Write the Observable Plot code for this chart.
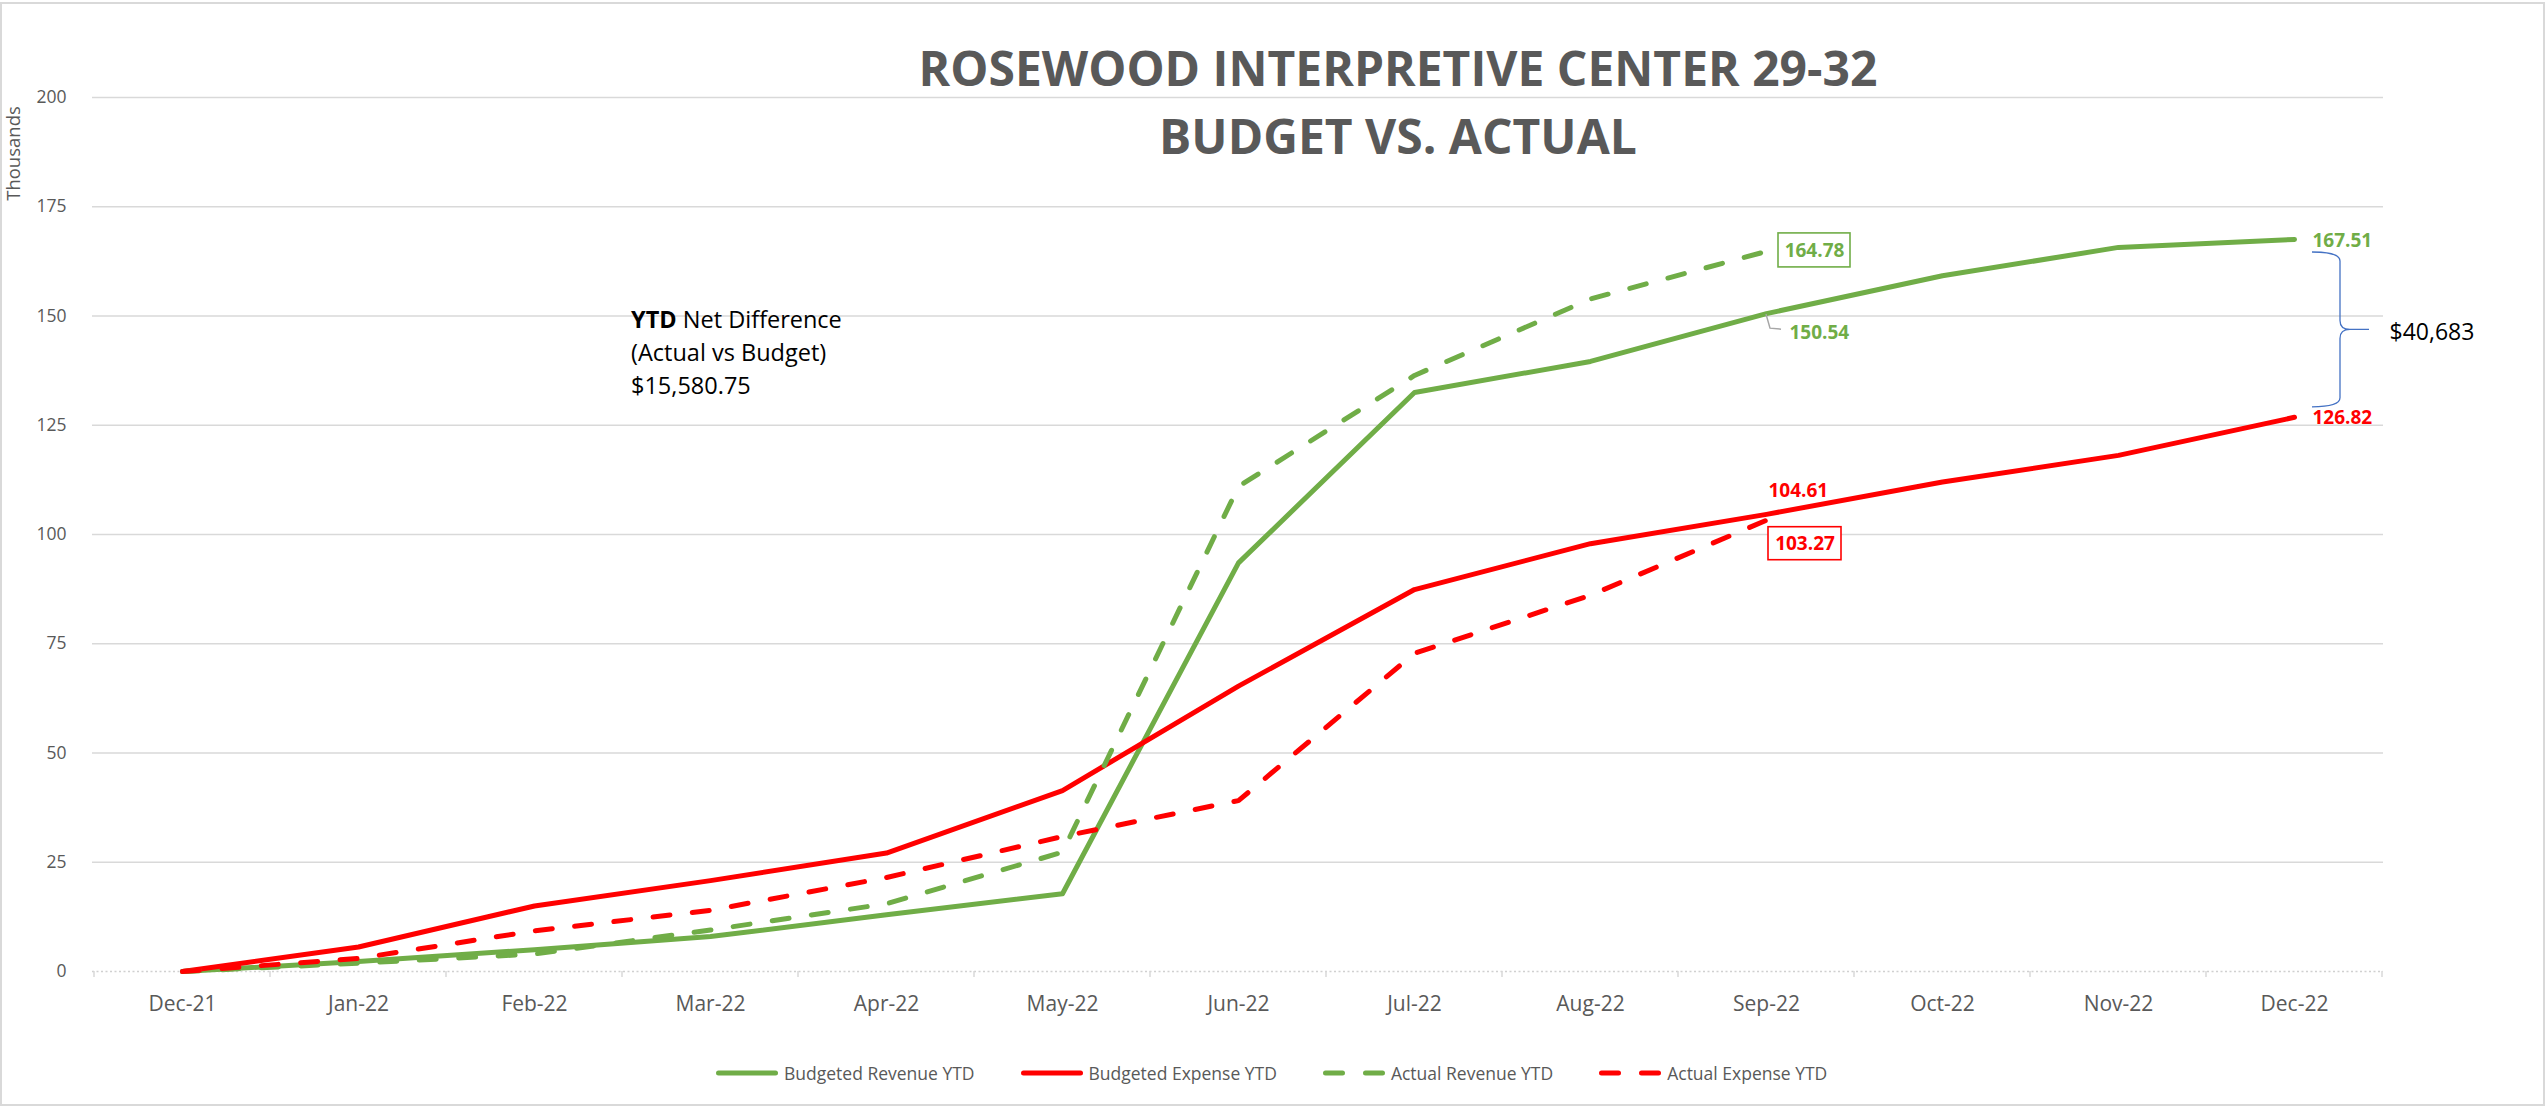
<!DOCTYPE html>
<html>
<head>
<meta charset="utf-8">
<script src="https://cdn.jsdelivr.net/npm/d3@7"></script>
<script src="https://cdn.jsdelivr.net/npm/@observablehq/plot@0.6"></script>
<style>
html,body{margin:0;padding:0;background:#fff;}
body{width:2547px;height:1109px;overflow:hidden;font-family:"Open Sans",sans-serif;}
#wrap{position:relative;width:2547px;height:1109px;background:#fff;}
#border{position:absolute;left:0;top:2px;width:2545px;height:1104px;box-sizing:border-box;border:2px solid #d9d9d9;pointer-events:none;}
#chart{position:absolute;left:0;top:0;}
#title{position:absolute;left:1398px;top:34px;transform:translateX(-50%);text-align:center;white-space:nowrap;font-weight:700;font-size:48px;line-height:68px;color:#595959;}
#note{position:absolute;left:631px;top:303px;font-size:23.5px;line-height:33px;color:#000;white-space:nowrap;}
#legend{position:absolute;left:716px;top:1060px;height:26px;display:flex;align-items:center;font-size:17.5px;color:#595959;white-space:nowrap;}
.item{display:flex;align-items:center;margin-right:46px;}
.item svg{margin-right:6px;display:block;}
</style>
</head>
<body>
<div id="wrap">
  <div id="chart"></div>
  <div id="title"></div>
  <div id="note"></div>
  <div id="legend"></div>
  <div id="border"></div>
</div>
<script>
// ---------- data ----------
const months = ["Dec-21","Jan-22","Feb-22","Mar-22","Apr-22","May-22","Jun-22","Jul-22","Aug-22","Sep-22","Oct-22","Nov-22","Dec-22"];
const budgetedRevenue = [0, 2.3, 5.0, 8.0, 13.0, 17.8, 93.5, 132.5, 139.6, 150.54, 159.2, 165.7, 167.51];
const budgetedExpense = [0, 5.6, 15.0, 20.8, 27.1, 41.4, 65.3, 87.4, 97.9, 104.61, 112.0, 118.1, 126.82];
const actualRevenue   = [0, 1.9, 4.0, 9.5, 15.5, 27.3, 111.0, 136.4, 153.9, 164.78];
const actualExpense   = [0, 3.0, 9.3, 14.0, 21.5, 30.9, 39.1, 72.8, 86.1, 103.27];
const yTicks = [0, 25, 50, 75, 100, 125, 150, 175, 200];
const seriesNames  = ["Budgeted Revenue YTD", "Budgeted Expense YTD", "Actual Revenue YTD", "Actual Expense YTD"];
const seriesColors = ["#70AD47", "#FF0000", "#70AD47", "#FF0000"];
const seriesDashed = [false, false, true, true];
const titleLines = ["ROSEWOOD INTERPRETIVE CENTER 29-32", "BUDGET VS. ACTUAL"];
const yAxisLabel = "Thousands";
const noteBold = "YTD";
const noteLines = [" Net Difference", "(Actual vs Budget)", "$15,580.75"];
const gapLabel = "$40,683";

// ---------- table ----------
const seriesValues = [budgetedRevenue, budgetedExpense, actualRevenue, actualExpense];
const rows = seriesValues.flatMap((vals, s) => vals.map((v, i) => ({month: months[i], value: v, series: seriesNames[s]})));
const lastOf = (arr) => ({month: months[arr.length - 1], value: arr[arr.length - 1]});
const atMonth = (arr, m) => ({month: m, value: arr[months.indexOf(m)]});

const GREEN = seriesColors[0], RED = seriesColors[1];
const DASH = "17,22.5";

const lineMarks = seriesNames.map((name, s) =>
  Plot.line(rows.filter(r => r.series === name), {
    x: "month", y: "value",
    stroke: seriesColors[s], strokeWidth: 5,
    strokeLinejoin: "round", strokeLinecap: "round",
    strokeDasharray: seriesDashed[s] ? DASH : undefined
  })
);

const brLast = lastOf(budgetedRevenue), beLast = lastOf(budgetedExpense);
const arLast = lastOf(actualRevenue), aeLast = lastOf(actualExpense);
const brSep = atMonth(budgetedRevenue, "Sep-22"), beSep = atMonth(budgetedExpense, "Sep-22");

// decorations drawn through the plot scales
function categoryTicks(index, scales) {
  const g = d3.create("svg:g");
  const X = scales.x, Y = scales.y;
  const step = X(months[1]) - X(months[0]);
  const y0 = Y(0);
  for (let i = 0; i <= months.length; i++) {
    const x = X(months[0]) - step / 2 + i * step;
    g.append("line").attr("x1", x).attr("x2", x).attr("y1", y0).attr("y2", y0 + 6)
      .attr("stroke", "#d9d9d9").attr("stroke-width", 1.5);
  }
  return g.node();
}

function annotations(index, scales) {
  const g = d3.create("svg:g");
  const X = scales.x, Y = scales.y;
  // leader line for budgeted revenue Sep label
  const lx = X(brSep.month), ly = Y(brSep.value);
  g.append("path").attr("d", `M${lx},${ly + 1}L${lx + 4},${ly + 15}L${lx + 15},${ly + 16}`)
    .attr("fill", "none").attr("stroke", "#a6a6a6").attr("stroke-width", 1.5);
  // boxes for actual labels
  const ax = X(arLast.month), ay = Y(arLast.value);
  g.append("rect").attr("x", ax + 12).attr("y", ay - 18).attr("width", 72).attr("height", 34)
    .attr("fill", "#fff").attr("stroke", GREEN).attr("stroke-width", 1.6);
  const ex = X(aeLast.month), ey = Y(aeLast.value);
  g.append("rect").attr("x", ex + 2).attr("y", ey + 7).attr("width", 73).attr("height", 33)
    .attr("fill", "#fff").attr("stroke", RED).attr("stroke-width", 1.6);
  // curly brace between Dec-22 budget values
  const bx = X(brLast.month);
  const yT = Y(brLast.value) + 13, yB = Y(beLast.value) - 10, yM = (yT + yB) / 2;
  const x0 = bx + 18, xv = bx + 46, xt = bx + 75, r = 9;
  const d = `M${x0},${yT} Q${xv},${yT} ${xv},${yT + r} L${xv},${yM - r} Q${xv},${yM} ${xv + 10},${yM} L${xt},${yM}` +
            ` M${xv + 10},${yM} Q${xv},${yM} ${xv},${yM + r} L${xv},${yB - r} Q${xv},${yB} ${x0},${yB}`;
  g.append("path").attr("d", d).attr("fill", "none").attr("stroke", "#4472C4").attr("stroke-width", 1.3);
  return g.node();
}

const labelFont = {fontWeight: 700, fontSize: 19};

const chart = Plot.plot({
  width: 2547,
  height: 1040,
  marginLeft: 92,
  marginRight: 164,
  marginTop: 97,
  marginBottom: 69,
  style: {fontFamily: '"Open Sans", sans-serif', background: "transparent", overflow: "visible"},
  x: {type: "point", domain: months, padding: 0.5},
  y: {domain: [0, 200]},
  marks: [
    Plot.gridY(yTicks.filter(t => t > 0), {stroke: "#d9d9d9", strokeOpacity: 1, strokeWidth: 1.5}),
    Plot.ruleY([0], {stroke: "#d0d0d0", strokeWidth: 1.5, strokeDasharray: "2,2.5"}),
    categoryTicks,
    Plot.axisY({ticks: yTicks, tickSize: 0, tickPadding: 26, fontSize: 17.5, color: "#595959", label: null}),
    Plot.axisX({tickSize: 0, tickPadding: 25, fontSize: 21, color: "#595959", label: null}),
    Plot.text([yAxisLabel], {frameAnchor: "top-left", textAnchor: "middle", lineAnchor: "middle", rotate: -90, dx: -78, dy: 56, fontSize: 18.5, fill: "#595959"}),
    ...lineMarks,
    annotations,
    Plot.text([brLast], {x: "month", y: "value", text: d => d.value.toFixed(2), textAnchor: "start", dx: 18, dy: 1, fill: GREEN, ...labelFont}),
    Plot.text([beLast], {x: "month", y: "value", text: d => d.value.toFixed(2), textAnchor: "start", dx: 18, dy: 1, fill: RED, ...labelFont}),
    Plot.text([brSep], {x: "month", y: "value", text: d => d.value.toFixed(2), textAnchor: "start", dx: 23, dy: 19, fill: GREEN, ...labelFont}),
    Plot.text([beSep], {x: "month", y: "value", text: d => d.value.toFixed(2), textAnchor: "start", dx: 2, dy: -23, fill: RED, ...labelFont}),
    Plot.text([arLast], {x: "month", y: "value", text: d => d.value.toFixed(2), textAnchor: "middle", dx: 48, dy: -1, fill: GREEN, ...labelFont}),
    Plot.text([aeLast], {x: "month", y: "value", text: d => d.value.toFixed(2), textAnchor: "middle", dx: 38.5, dy: 23.5, fill: RED, ...labelFont}),
    Plot.text([{month: brLast.month, value: (brLast.value + beLast.value) / 2}], {x: "month", y: "value", text: () => gapLabel, textAnchor: "start", dx: 95, dy: 4, fontSize: 23, fill: "#000"})
  ]
});
document.getElementById("chart").appendChild(chart);

// ---------- title ----------
document.getElementById("title").innerHTML = titleLines.join("<br>");

// ---------- note ----------
const note = document.getElementById("note");
const b = document.createElement("b"); b.textContent = noteBold; note.appendChild(b);
note.appendChild(document.createTextNode(noteLines[0]));
noteLines.slice(1).forEach(t => { note.appendChild(document.createElement("br")); note.appendChild(document.createTextNode(t)); });

// ---------- legend ----------
const legend = document.getElementById("legend");
seriesNames.forEach((name, s) => {
  const item = document.createElement("div");
  item.className = "item";
  const sw = d3.create("svg").attr("width", 62).attr("height", 10);
  sw.append("line").attr("x1", 2.5).attr("x2", 59.5).attr("y1", 5).attr("y2", 5)
    .attr("stroke", seriesColors[s]).attr("stroke-width", 5).attr("stroke-linecap", "round")
    .attr("stroke-dasharray", seriesDashed[s] ? "17,23" : null);
  item.appendChild(sw.node());
  const span = document.createElement("span"); span.textContent = name;
  item.appendChild(span);
  legend.appendChild(item);
});
</script>
</body>
</html>
